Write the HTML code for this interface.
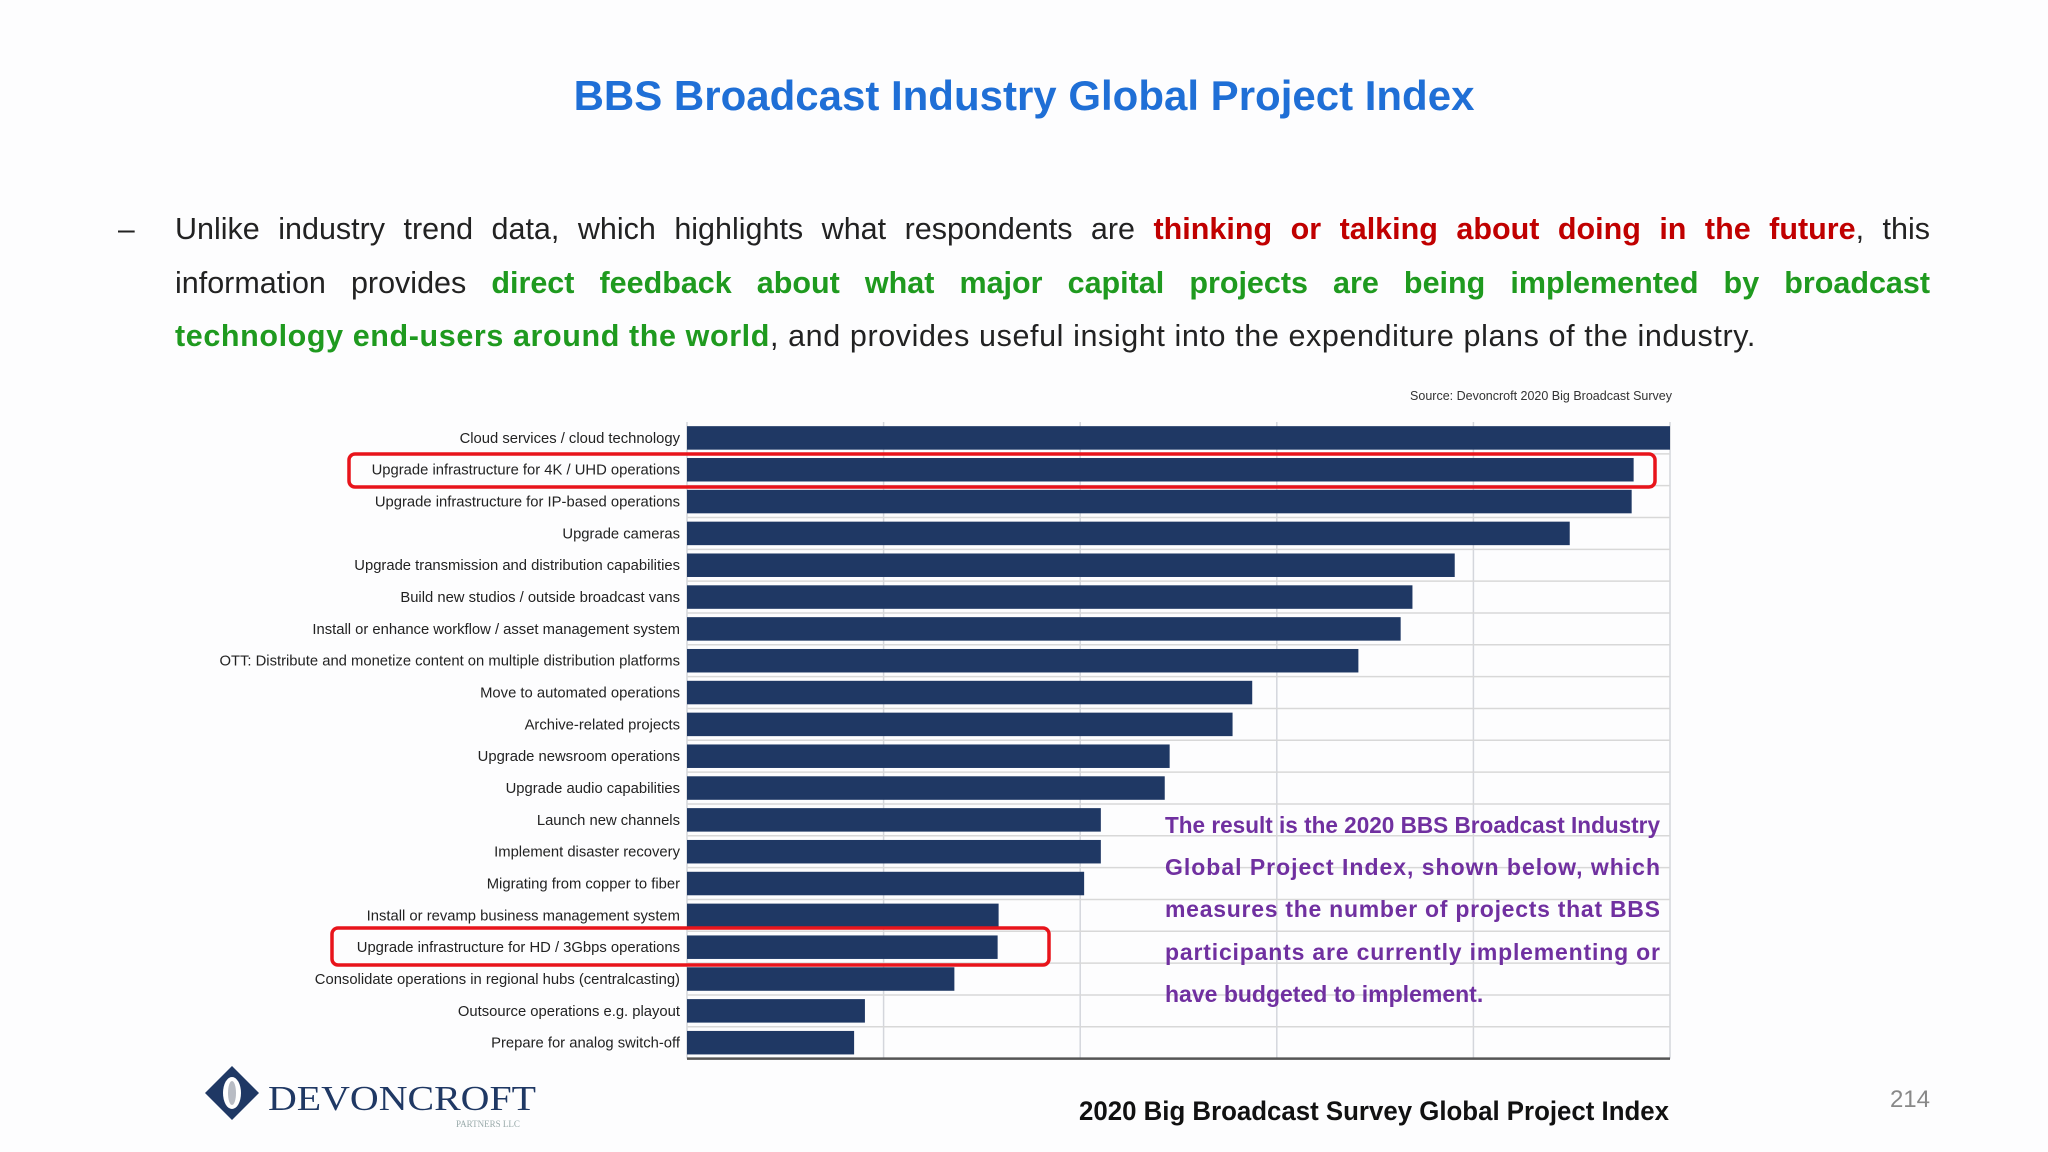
<!DOCTYPE html>
<html><head><meta charset="utf-8">
<style>
html,body{margin:0;padding:0;background:#fdfdfe;}
body{width:2048px;height:1152px;position:relative;overflow:hidden;font-family:"Liberation Sans",sans-serif;}
#para{position:absolute;left:175px;top:203px;width:1755px;font-size:30.5px;line-height:53.5px;color:#222;}
#para .ln{display:block;text-align:justify;text-align-last:justify;white-space:nowrap;}
#para .ln.last{text-align-last:left;letter-spacing:0.6px;}
#para .r{color:#c00000;font-weight:bold;}
#para .g{color:#1f9a1f;font-weight:bold;}
#dash{position:absolute;left:118px;top:203px;font-size:30px;line-height:53.5px;color:#222;}
svg{position:absolute;left:0;top:0;}
</style></head><body>
<svg id="chart" width="2048" height="1152">
  <text x="1024" y="110" text-anchor="middle" font-family="Liberation Sans, sans-serif" font-weight="bold" font-size="42" fill="#1f6fd6">BBS Broadcast Industry Global Project Index</text>
  <text x="1672" y="400" text-anchor="end" font-family="Liberation Sans, sans-serif" font-size="12.5" fill="#333">Source: Devoncroft 2020 Big Broadcast Survey</text>
  <g id="grid"></g>
  <g id="bars"></g>
  <g id="labels"></g>
  <rect x="349" y="454" width="1306" height="33" rx="6" fill="none" stroke="#e8141b" stroke-width="3.5"/>
  <rect x="332" y="928" width="717" height="37" rx="6" fill="none" stroke="#e8141b" stroke-width="3.5"/>
  <g font-family="Liberation Sans, sans-serif" font-weight="bold" font-size="23" fill="#7030a0">
    <text x="1165" y="833" textLength="495" lengthAdjust="spacingAndGlyphs">The result is the 2020 BBS Broadcast Industry</text>
    <text x="1165" y="875" textLength="495" lengthAdjust="spacing">Global Project Index, shown below, which</text>
    <text x="1165" y="917" textLength="495" lengthAdjust="spacing">measures the number of projects that BBS</text>
    <text x="1165" y="960" textLength="495" lengthAdjust="spacing">participants are currently implementing or</text>
    <text x="1165" y="1002">have budgeted to implement.</text>
  </g>
  <g>
    <polygon points="232,1066 259,1093 232,1120 205,1093" fill="#1f3864"/>
    <ellipse cx="232" cy="1093" rx="9" ry="16" fill="#fff"/>
    <ellipse cx="232" cy="1093" rx="4" ry="12" fill="#b8bcc4"/>
    <text x="268" y="1110" font-family="Liberation Serif, serif" font-size="35" fill="#1f3864" textLength="268" lengthAdjust="spacingAndGlyphs">DEVONCROFT</text>
    <text x="456" y="1127" font-family="Liberation Serif, serif" font-size="9" fill="#9aa">PARTNERS LLC</text>
  </g>
  <text x="1669" y="1120" text-anchor="end" font-family="Liberation Sans, sans-serif" font-weight="bold" font-size="27" fill="#111" textLength="590" lengthAdjust="spacingAndGlyphs">2020 Big Broadcast Survey Global Project Index</text>
  <text x="1930" y="1107" text-anchor="end" font-family="Liberation Sans, sans-serif" font-size="24" fill="#888">214</text>
</svg>
<div id="dash">–</div>
<div id="para"><span class="ln">Unlike industry trend data, which highlights what respondents are <span class="r">thinking or talking about doing in the future</span>, this</span><span class="ln">information provides <span class="g">direct feedback about what major capital projects are being implemented by broadcast</span></span><span class="ln last"><span class="g">technology end-users around the world</span>, and provides useful insight into the expenditure plans of the industry.</span></div>
<script>
const categories = ["Cloud services / cloud technology","Upgrade infrastructure for 4K / UHD operations","Upgrade infrastructure for IP-based operations","Upgrade cameras","Upgrade transmission and distribution capabilities","Build new studios / outside broadcast vans","Install or enhance workflow / asset management system","OTT: Distribute and monetize content on multiple distribution platforms","Move to automated operations","Archive-related projects","Upgrade newsroom operations","Upgrade audio capabilities","Launch new channels","Implement disaster recovery","Migrating from copper to fiber","Install or revamp business management system","Upgrade infrastructure for HD / 3Gbps operations","Consolidate operations in regional hubs (centralcasting)","Outsource operations e.g. playout","Prepare for analog switch-off"];
const values = [100,96.3,96.1,89.8,78.1,73.8,72.6,68.3,57.5,55.5,49.1,48.6,42.1,42.1,40.4,31.7,31.6,27.2,18.1,17.0];
const gridTicks = [0,20,40,60,80,100];
const NS="http://www.w3.org/2000/svg";
const x0=687,x1=1670,top0=422,step=31.83,barH=23.5,maxV=100;
const xs=v=>x0+(x1-x0)*v/maxV;
const yc=i=>top0+step*(i+0.5);
function mk(tag,attrs,parent){const e=document.createElementNS(NS,tag);for(const k in attrs)e.setAttribute(k,attrs[k]);parent.appendChild(e);return e;}
const grid=document.getElementById('grid'),bars=document.getElementById('bars'),labels=document.getElementById('labels');
const bottom=top0+step*categories.length;
gridTicks.forEach(t=>{
  const l=mk('line',{x1:xs(t),x2:xs(t),y1:top0,y2:bottom,stroke:'#d4d6dc','stroke-width':1.5},grid);
  
  
});
for(let i=1;i<categories.length;i++){
  const l=mk('line',{x1:x0,x2:x1,y1:top0+step*i,y2:top0+step*i,stroke:'#d8d8d8','stroke-width':1.5},grid);
  
  
}
const ax=mk('line',{x1:x0,x2:x1,y1:bottom,y2:bottom,stroke:'#555','stroke-width':2.5},grid);


categories.forEach((c,i)=>{
  const r=mk('rect',{x:x0,y:yc(i)-barH/2,width:xs(values[i])-x0,height:barH,fill:'#1f3864'},bars);
  
  
  const t=mk('text',{x:680,y:yc(i)+5,'text-anchor':'end','font-family':'Liberation Sans, sans-serif','font-size':14.8,fill:'#222'},labels);
  t.textContent=c;
  
  
});
</script>
</body></html>
